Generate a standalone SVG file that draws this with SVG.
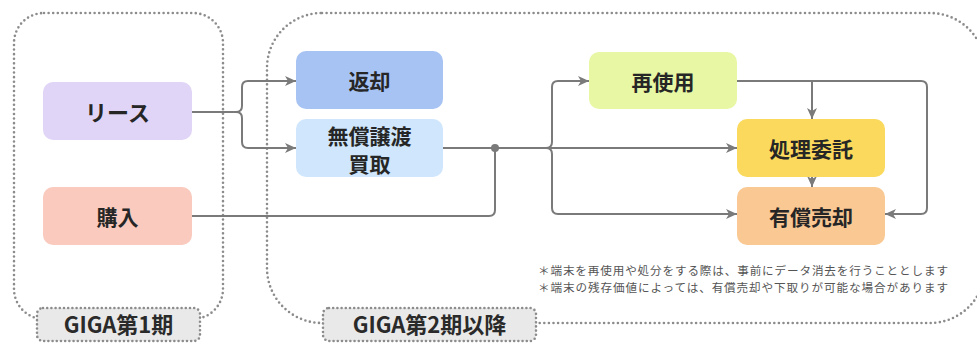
<svg xmlns="http://www.w3.org/2000/svg" width="977" height="343" viewBox="0 0 977 343">
<defs>
<marker id="ah" markerUnits="userSpaceOnUse" markerWidth="12" markerHeight="12" viewBox="0 0 12 12" refX="11" refY="6" orient="auto">
<path d="M0,1 L11,6 L0,11 L3,6 Z" fill="#7a7a7a"/>
</marker>
<style>
.cont{fill:none;stroke:#8c8c8c;stroke-width:2.6;stroke-dasharray:0 4.6;stroke-linecap:round}
.lab{fill:#e9e9e9;stroke:#8c8c8c;stroke-width:2.6;stroke-dasharray:0 4.2;stroke-linecap:round}
.labt{font-family:"Noto Sans CJK JP","Noto Sans",sans-serif;font-weight:700;font-size:22px;fill:#2a2a2a;text-anchor:middle}
.nt{font-family:"Noto Sans CJK JP","Noto Sans",sans-serif;font-weight:700;font-size:21px;fill:#262626;text-anchor:middle;dominant-baseline:central}
.c{fill:none;stroke:#7a7a7a;stroke-width:2}
.ca{fill:none;stroke:#7a7a7a;stroke-width:2;marker-end:url(#ah)}
.note{font-family:"Noto Sans CJK JP","Noto Sans",sans-serif;font-size:11.6px;fill:#555}
</style>
</defs>
<rect width="977" height="343" fill="#ffffff"/>

<g id="phase1">
<rect class="cont" x="14" y="13" width="209" height="306" rx="30"/>
<rect class="lab" x="37" y="308" width="163" height="33" rx="6"/>
<text class="labt" x="118.5" y="333">GIGA第1期</text>
</g>
<g id="phase2">
<rect class="cont" x="267" y="13" width="718" height="310" rx="55"/>
<rect class="lab" x="323" y="308" width="213" height="33" rx="6"/>
<text class="labt" x="429.5" y="333">GIGA第2期以降</text>
</g>

<g id="connectors">
<path class="ca" d="M192,112 H236 Q242,112 242,106 V87 Q242,81 248,81 H296"/>
<path class="ca" d="M236,112 Q242,112 242,118 V142 Q242,148 248,148 H296"/>
<path class="c" d="M192,216 H489 Q495,216 495,210 V148"/>
<path class="ca" d="M443,148 H737"/>
<circle cx="495" cy="148" r="4" fill="#7a7a7a"/>
<path class="ca" d="M546,148 Q552,148 552,142 V87 Q552,81 558,81 H589"/>
<path class="ca" d="M546,148 Q552,148 552,154 V208 Q552,214 558,214 H737"/>
<path class="ca" d="M737,81 H921 Q927,81 927,87 V208 Q927,214 921,214 H885"/>
<path class="ca" d="M812,81 V119"/>
<path class="ca" d="M812,177 V187"/>
</g>

<g id="lease">
<rect x="43" y="82" width="149" height="58" rx="10" fill="#e1d5f7"/>
<text class="nt" x="117.5" y="111" style="font-size:22px">リース</text>
</g>
<g id="purchase">
<rect x="43" y="187" width="149" height="58" rx="10" fill="#f9cabd"/>
<text class="nt" x="117.5" y="216">購入</text>
</g>
<g id="return">
<rect x="296" y="51" width="147" height="58" rx="10" fill="#a6c3f4"/>
<text class="nt" x="369.5" y="80">返却</text>
</g>
<g id="transfer">
<rect x="296" y="119" width="147" height="58" rx="10" fill="#cfe6fc"/>
<text class="nt" x="369.5" y="135">無償譲渡</text>
<text class="nt" x="369.5" y="163">買取</text>
</g>
<g id="reuse">
<rect x="589" y="52" width="148" height="57" rx="10" fill="#e7f7a3"/>
<text class="nt" x="663" y="81">再使用</text>
</g>
<g id="disposal">
<rect x="737" y="119" width="148" height="58" rx="10" fill="#fad95c"/>
<text class="nt" x="811" y="148">処理委託</text>
</g>
<g id="sale">
<rect x="737" y="187" width="148" height="58" rx="10" fill="#f9c893"/>
<text class="nt" x="811" y="216">有償売却</text>
</g>

<g id="notes">
<text class="note" x="538" y="275" textLength="410" lengthAdjust="spacing">＊端末を再使用や処分をする際は、事前にデータ消去を行うこととします</text>
<text class="note" x="538" y="292" textLength="410" lengthAdjust="spacing">＊端末の残存価値によっては、有償売却や下取りが可能な場合があります</text>
</g>
</svg>
